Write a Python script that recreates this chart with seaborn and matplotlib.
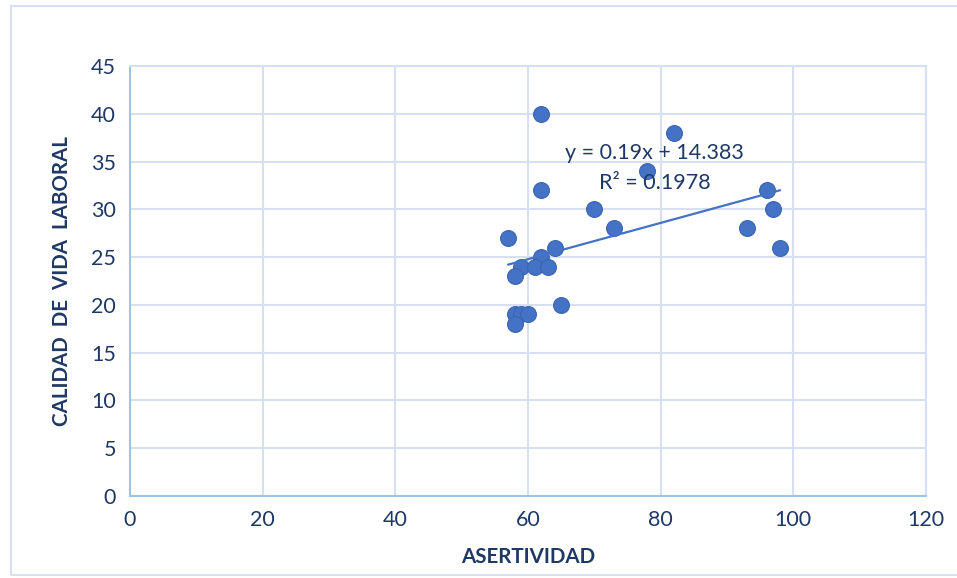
import matplotlib
matplotlib.use("Agg")
import matplotlib.pyplot as plt
import seaborn as sns
import numpy as np
import pandas as pd
from matplotlib.patches import Rectangle

# Data
asertividad = [62, 82, 78, 62, 70, 73, 57, 64, 62, 59, 61, 63, 58, 65, 58, 59, 60, 58, 96, 97, 93, 98]
calidad = [40, 38, 34, 32, 30, 28, 27, 26, 25, 24, 24, 24, 23, 20, 19, 19, 19, 18, 32, 30, 28, 26]
x_ticks = [0, 20, 40, 60, 80, 100, 120]
y_ticks = [0, 5, 10, 15, 20, 25, 30, 35, 40, 45]
eq_text = "y = 0.19x + 14.383"
r2_text = "R² = 0.1978"

df = pd.DataFrame({"ASERTIVIDAD": asertividad, "CALIDAD": calidad})

sns.set_style("white")
plt.rcParams["font.family"] = ["Lato", "DejaVu Sans"]

fig = plt.figure(figsize=(9.57, 5.78), dpi=100)
ax = fig.add_axes([0.1358, 0.1419, 0.8318, 0.7439])

text_col = "#1F3864"
grid_col = "#D6E0F0"
pt_col = "#4472C4"

sns.scatterplot(data=df, x="ASERTIVIDAD", y="CALIDAD", ax=ax, s=130,
                color=pt_col, edgecolor="#3A65B0", linewidth=0.8, zorder=3)
sns.regplot(data=df, x="ASERTIVIDAD", y="CALIDAD", ax=ax, scatter=False, ci=None,
            line_kws={"color": pt_col, "linewidth": 1.6, "zorder": 4})

ax.set_xlim(0, 120)
ax.set_ylim(0, 45)
ax.set_xticks(x_ticks)
ax.set_yticks(y_ticks)
ax.grid(True, color=grid_col, linewidth=1.5)
ax.set_axisbelow(True)
for side in ["top", "right"]:
    ax.spines[side].set_color(grid_col)
    ax.spines[side].set_linewidth(1.5)
for side in ["left", "bottom"]:
    ax.spines[side].set_color("#9DC3E6")
    ax.spines[side].set_linewidth(1.5)
ax.tick_params(axis="both", length=0, labelsize=15.5, labelcolor=text_col, pad=10)

ax.set_xlabel("ASERTIVIDAD", fontsize=14.8, fontweight="bold", color=text_col, labelpad=12)
ax.set_ylabel("CALIDAD  DE  VIDA  LABORAL", fontsize=14.8, fontweight="bold", color=text_col, labelpad=14)

ax.text(79.1, 35.9, eq_text, fontsize=15.5, color=text_col, ha="center", va="center", zorder=5)
ax.text(79.1, 32.8, r2_text, fontsize=15.5, color=text_col, ha="center", va="center", zorder=5)

fig.patches.append(Rectangle((11 / 957, 3 / 578), 1.0, 1 - 9 / 578, transform=fig.transFigure,
                             fill=False, edgecolor="#D6E0F0", linewidth=1.5))

fig.savefig("out.png", dpi=100)
